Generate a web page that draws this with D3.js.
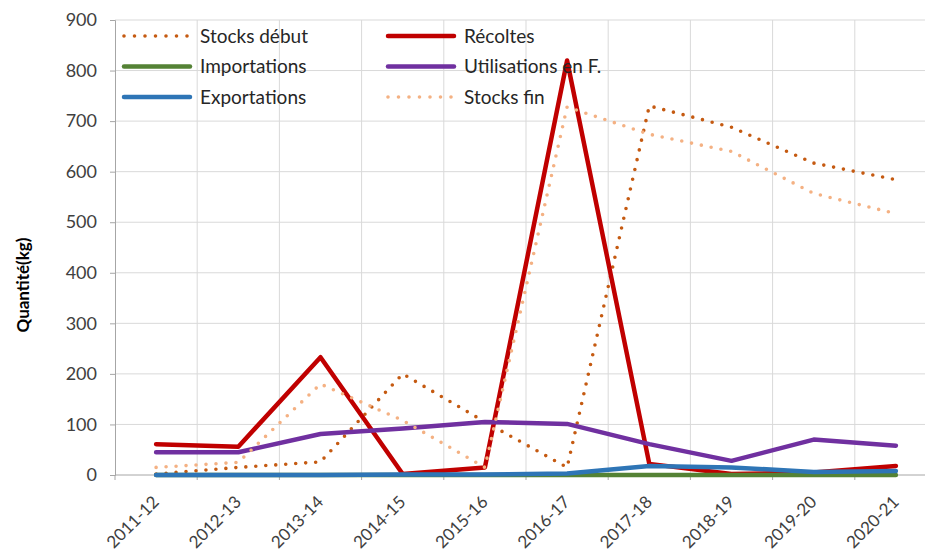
<!DOCTYPE html>
<meta charset="utf-8">
<style>
  body { margin: 0; background: #fff; }
  text { font-family: Lato, "Open Sans", sans-serif; fill: #404040; }
  .grid line { stroke: #d9d9d9; stroke-width: 1px; }
  .axis path, .axis line { stroke: #a6a6a6; }
</style>
<body>
<script src="https://cdn.jsdelivr.net/npm/d3@7"></script>
<script>
  // campaigns and series
  var campaigns = ["2011-12", "2012-13", "2013-14", "2014-15", "2015-16",
                   "2016-17", "2017-18", "2018-19", "2019-20", "2020-21"];
  var stocksDebut   = [2, 15, 26, 200, 105, 15, 730, 688, 617, 584];
  var recoltes      = [61, 56, 233, 2, 15, 820, 22, 2, 5, 18];
  var importations  = [0, 0, 0, 0, 0, 0, 0, 0, 0, 0];
  var utilisations  = [45, 45, 81, 92, 105, 101, 61, 28, 70, 58];
  var exportations  = [0, 0, 0, 1, 1, 3, 18, 15, 6, 8];
  var stocksFin     = [15, 25, 180, 108, 15, 728, 674, 640, 557, 517];
  var yTicks = [0, 100, 200, 300, 400, 500, 600, 700, 800, 900];

  var series = [
    { name: "Stocks début", values: stocksDebut, color: "#c55a11", dotted: true },
    { name: "Récoltes", values: recoltes, color: "#c00000" },
    { name: "Importations", values: importations, color: "#548235" },
    { name: "Utilisations en F.", values: utilisations, color: "#7030a0" },
    { name: "Exportations", values: exportations, color: "#2e75b6" },
    { name: "Stocks fin", values: stocksFin, color: "#f4b183", dotted: true }
  ];

  var width = 925, height = 554;
  var margin = { top: 20, left: 115, bottom: 79 };
  var plotW = 822; // plot runs a bit past the right edge, like the original crop

  var svg = d3.select("body").append("svg")
    .attr("width", width)
    .attr("height", height);

  var x = d3.scaleBand().domain(campaigns).range([margin.left, margin.left + plotW]);
  var y = d3.scaleLinear().domain([0, 900]).range([height - margin.bottom, margin.top]);

  // gridlines
  var grid = svg.append("g").attr("class", "grid");
  grid.selectAll(".h").data(yTicks.slice(1)).enter().append("line")
    .attr("x1", margin.left).attr("x2", margin.left + plotW)
    .attr("y1", function(d) { return y(d); }).attr("y2", function(d) { return y(d); });
  grid.selectAll(".v").data(campaigns.slice(1)).enter().append("line")
    .attr("x1", function(d) { return x(d); }).attr("x2", function(d) { return x(d); })
    .attr("y1", y(900)).attr("y2", y(0));

  // y axis
  var yAxis = svg.append("g").attr("class", "axis")
    .attr("transform", "translate(" + margin.left + ",0)")
    .call(d3.axisLeft(y).tickValues(yTicks).tickSize(5).tickPadding(13));
  yAxis.selectAll("text").style("font-size", "18px").attr("fill", "#404040");

  // x axis, ticks between categories
  var xAxisG = svg.append("g").attr("class", "axis");
  xAxisG.append("line")
    .attr("x1", margin.left).attr("x2", margin.left + plotW)
    .attr("y1", y(0)).attr("y2", y(0));
  xAxisG.selectAll(".tk").data(campaigns).enter().append("line")
    .attr("x1", function(d) { return x(d); }).attr("x2", function(d) { return x(d); })
    .attr("y1", y(0)).attr("y2", y(0) + 5);
  xAxisG.selectAll(".lbl").data(campaigns).enter().append("text")
    .attr("text-anchor", "end")
    .style("font-size", "17px")
    .attr("transform", function(d) {
      return "translate(" + (x(d) + x.bandwidth() / 2 + 4) + "," + (y(0) + 28) + ") rotate(-45)";
    })
    .text(function(d) { return d; });

  // y title
  svg.append("text")
    .attr("transform", "translate(29,285) rotate(-90)")
    .attr("text-anchor", "middle")
    .style("font-size", "17px")
    .style("font-weight", "bold")
    .style("fill", "#000")
    .text("Quantité(kg)");

  // lines
  var line = d3.line()
    .x(function(d, i) { return x(campaigns[i]) + x.bandwidth() / 2; })
    .y(function(d) { return y(d); });

  series.forEach(function(s) {
    svg.append("path")
      .datum(s.values)
      .attr("fill", "none")
      .attr("stroke", s.color)
      .attr("stroke-width", s.dotted ? 3.6 : 4.5)
      .attr("stroke-linecap", "round")
      .attr("stroke-linejoin", "round")
      .attr("stroke-dasharray", s.dotted ? "0 10" : null)
      .attr("d", line);
  });

  // legend, two columns filled row by row
  var legend = svg.append("g");
  series.forEach(function(s, i) {
    var col = i % 2, row = Math.floor(i / 2);
    var lx = 124 + col * 264, ly = 36 + row * 30.5;
    legend.append("line")
      .attr("x1", lx).attr("x2", lx + 66)
      .attr("y1", ly).attr("y2", ly)
      .attr("stroke", s.color)
      .attr("stroke-width", s.dotted ? 3.6 : 4.5)
      .attr("stroke-linecap", "round")
      .attr("stroke-dasharray", s.dotted ? "0 10.5" : null);
    legend.append("text")
      .attr("x", lx + 76).attr("y", ly)
      .attr("dy", "0.35em")
      .style("font-size", "19px")
      .style("fill", "#262626")
      .text(s.name);
  });
</script>
</body>
